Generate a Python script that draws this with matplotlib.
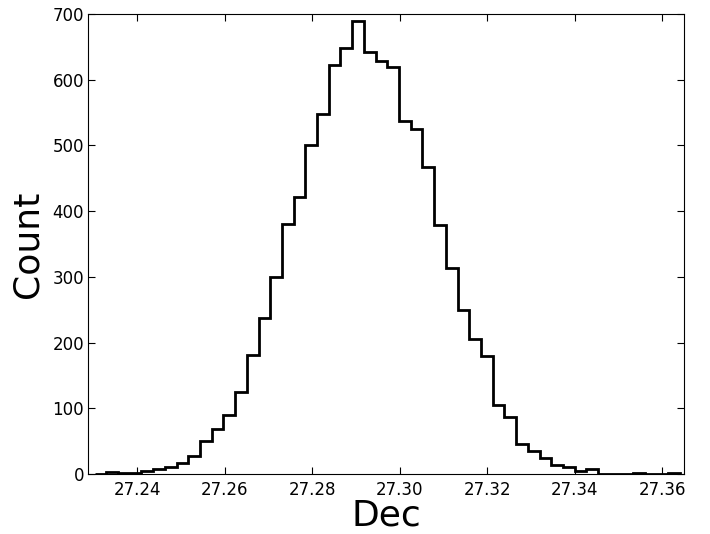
import matplotlib
matplotlib.use('Agg')
import matplotlib.pyplot as plt
import numpy as np

# Histogramme de la declinaison
debut = 27.23024
largeur = 0.002677
comptes = [0, 3, 1, 2, 4, 8, 11, 17, 28, 50,
           69, 90, 125, 181, 237, 300, 380, 421, 501, 548,
           623, 648, 689, 642, 629, 619, 537, 525, 467, 379,
           313, 249, 205, 179, 105, 86, 46, 35, 25, 13,
           10, 4, 7, 0, 0, 0, 1, 0, 0, 1]
bords = debut + largeur * np.arange(len(comptes) + 1)

xlim = (27.2288, 27.3650)
xticks = [27.24, 27.26, 27.28, 27.30, 27.32, 27.34, 27.36]
yticks = [0, 100, 200, 300, 400, 500, 600, 700]

fig = plt.figure(figsize=(7.1, 5.34), dpi=100)
ax = fig.add_axes([0.1244, 0.1124, 0.8390, 0.8614])

ax.stairs(comptes, bords, color='black', linewidth=2)

ax.set_xlim(xlim)
ax.set_ylim(0, 700)
ax.set_xticks(xticks)
ax.set_xticklabels(['%.2f' % t for t in xticks])
ax.set_yticks(yticks)
ax.tick_params(direction='in', top=True, right=True, length=5, labelsize=12)
ax.tick_params(axis='x', pad=5)
ax.tick_params(axis='y', pad=3)

ax.set_xlabel('Dec', fontsize=26, labelpad=0)
ax.set_ylabel('Count', fontsize=26, labelpad=6)

plt.savefig('out.png', dpi=100)
